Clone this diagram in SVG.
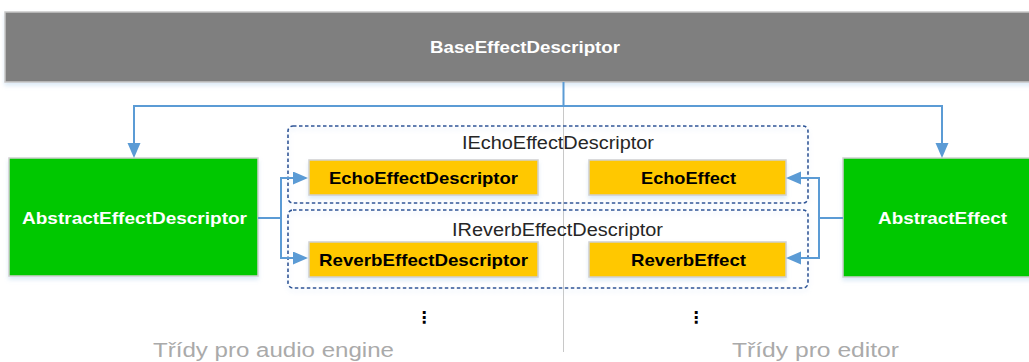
<svg xmlns="http://www.w3.org/2000/svg" width="1029" height="362" viewBox="0 0 1029 362">
  <style>
    .lbl-b { font-family: "Liberation Sans", Arial, sans-serif; font-weight: bold; font-size: 17px; text-anchor: middle; }
    .lbl-w { fill: #ffffff; }
    .lbl-k { fill: #000000; }
    .iface { font-family: "Liberation Sans", Arial, sans-serif; font-size: 18px; fill: #262626; text-anchor: middle; }
    .caption { font-family: "Liberation Sans", Arial, sans-serif; font-size: 20px; fill: #aaaaaa; text-anchor: middle; }
    .dots { font-family: "DejaVu Sans", sans-serif; font-size: 16px; font-weight: bold; fill: #000000; text-anchor: middle; }
    .base { fill: #7f7f7f; stroke: #c8c8c8; stroke-width: 1.5; }
    .abs { fill: #00c800; stroke: #d0d0d0; stroke-width: 1.5; }
    .impl { fill: #ffc800; stroke: #d0d0d0; stroke-width: 1.5; }
    .grp { fill: none; stroke: #2f5597; stroke-width: 1.6; stroke-dasharray: 3.5 2.5; }
    .conn { fill: none; stroke: #5b9bd5; stroke-width: 2; }
    .divider { stroke: #c8c8c8; stroke-width: 1; }
  </style>
  <defs>
    <marker id="arrow" markerUnits="userSpaceOnUse" markerWidth="16" markerHeight="14" refX="13" refY="6.5" orient="auto">
      <path d="M0,0 L15,6.5 L0,13 z" fill="#5b9bd5"/>
    </marker>
    <filter id="shadow" x="-5%" y="-10%" width="110%" height="130%">
      <feDropShadow dx="0" dy="3" stdDeviation="2" flood-color="#9dc3e6" flood-opacity="0.35"/>
    </filter>
  </defs>

  <rect width="1029" height="362" fill="#ffffff"/>

  <!-- split between engine side and editor side -->
  <line class="divider" x1="563.5" y1="82" x2="563.5" y2="352"/>

  <g id="base-effect-descriptor">
    <rect class="base" x="5" y="12" width="1030" height="70" filter="url(#shadow)"/>
    <text class="lbl-b lbl-w" x="525" y="53" textLength="190" lengthAdjust="spacingAndGlyphs">BaseEffectDescriptor</text>
  </g>

  <g id="abstract-effect-descriptor">
    <rect class="abs" x="9" y="158" width="249" height="118" filter="url(#shadow)"/>
    <text class="lbl-b lbl-w" x="134.5" y="224" textLength="225" lengthAdjust="spacingAndGlyphs">AbstractEffectDescriptor</text>
  </g>

  <g id="abstract-effect">
    <rect class="abs" x="843" y="158" width="200" height="119" filter="url(#shadow)"/>
    <text class="lbl-b lbl-w" x="942.5" y="224" textLength="129" lengthAdjust="spacingAndGlyphs">AbstractEffect</text>
  </g>

  <g id="iecho-effect-descriptor">
    <rect class="grp" x="288" y="126" width="520" height="77" rx="5" filter="url(#shadow)"/>
    <text class="iface" x="558" y="149" textLength="192" lengthAdjust="spacingAndGlyphs">IEchoEffectDescriptor</text>
  </g>

  <g id="ireverb-effect-descriptor">
    <rect class="grp" x="288" y="210" width="520" height="78" rx="5" filter="url(#shadow)"/>
    <text class="iface" x="557.5" y="236" textLength="211" lengthAdjust="spacingAndGlyphs">IReverbEffectDescriptor</text>
  </g>

  <g id="echo-effect-descriptor">
    <rect class="impl" x="309" y="160" width="229" height="35" filter="url(#shadow)"/>
    <text class="lbl-b lbl-k" x="423.5" y="184" textLength="189" lengthAdjust="spacingAndGlyphs">EchoEffectDescriptor</text>
  </g>

  <g id="reverb-effect-descriptor">
    <rect class="impl" x="309" y="242" width="229" height="35" filter="url(#shadow)"/>
    <text class="lbl-b lbl-k" x="423.5" y="266" textLength="209" lengthAdjust="spacingAndGlyphs">ReverbEffectDescriptor</text>
  </g>

  <g id="echo-effect">
    <rect class="impl" x="589" y="160" width="197" height="35" filter="url(#shadow)"/>
    <text class="lbl-b lbl-k" x="688.5" y="184" textLength="95" lengthAdjust="spacingAndGlyphs">EchoEffect</text>
  </g>

  <g id="reverb-effect">
    <rect class="impl" x="589" y="242" width="197" height="35" filter="url(#shadow)"/>
    <text class="lbl-b lbl-k" x="688.5" y="266" textLength="115" lengthAdjust="spacingAndGlyphs">ReverbEffect</text>
  </g>

  <g id="connectors">
    <path class="conn" d="M563.5,82 V106 H134 V156" marker-end="url(#arrow)"/>
    <path class="conn" d="M563.5,106 H942 V156" marker-end="url(#arrow)"/>
    <path class="conn" d="M258,218 H281 V178 H306" marker-end="url(#arrow)"/>
    <path class="conn" d="M281,218 V258 H306" marker-end="url(#arrow)"/>
    <path class="conn" d="M843,218 H819 V178 H788" marker-end="url(#arrow)"/>
    <path class="conn" d="M819,218 V258 H788" marker-end="url(#arrow)"/>
  </g>

  <g id="more-engine">
    <text class="dots" x="424" y="323">⋮</text>
  </g>
  <g id="more-editor">
    <text class="dots" x="696" y="323">⋮</text>
  </g>

  <text class="caption" x="273.5" y="357" textLength="241" lengthAdjust="spacingAndGlyphs">Třídy pro audio engine</text>
  <text class="caption" x="815.5" y="357" textLength="167" lengthAdjust="spacingAndGlyphs">Třídy pro editor</text>
</svg>
